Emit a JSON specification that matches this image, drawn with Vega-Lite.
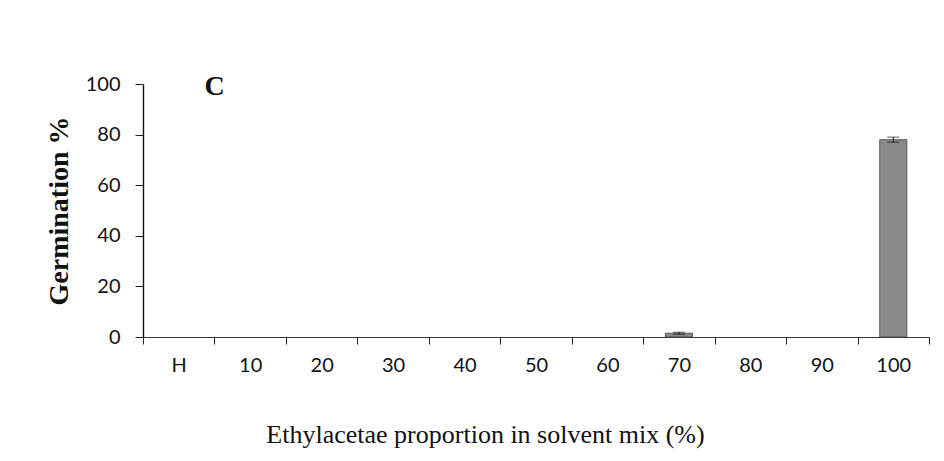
{
  "$schema": "https://vega.github.io/schema/vega-lite/v6.json",
  "width": 786,
  "height": 253,
  "autosize": {"type": "none"},
  "padding": {"left": 143, "top": 84, "right": 15, "bottom": 124},
  "background": "white",
  "config": {"view": {"stroke": null}},
  "data": {
    "values": [
      {"mix": "H", "germ": 0, "lo": 0, "hi": 0},
      {"mix": "10", "germ": 0, "lo": 0, "hi": 0},
      {"mix": "20", "germ": 0, "lo": 0, "hi": 0},
      {"mix": "30", "germ": 0, "lo": 0, "hi": 0},
      {"mix": "40", "germ": 0, "lo": 0, "hi": 0},
      {"mix": "50", "germ": 0, "lo": 0, "hi": 0},
      {"mix": "60", "germ": 0, "lo": 0, "hi": 0},
      {"mix": "70", "germ": 1.5, "lo": 1.1, "hi": 1.9},
      {"mix": "80", "germ": 0, "lo": 0, "hi": 0},
      {"mix": "90", "germ": 0, "lo": 0, "hi": 0},
      {"mix": "100", "germ": 78, "lo": 77, "hi": 79}
    ]
  },
  "encoding": {
    "x": {
      "field": "mix",
      "type": "nominal",
      "sort": null,
      "scale": {
        "domain": ["H", "10", "20", "30", "40", "50", "60", "70", "80", "90", "100"],
        "paddingInner": 0,
        "paddingOuter": 0
      },
      "axis": {
        "title": "Ethylacetae proportion in solvent mix (%)",
        "titleFont": "Liberation Serif",
        "titleFontSize": 26,
        "titleFontWeight": "normal",
        "titleColor": "#111",
        "titlePadding": 46,
        "titleX": 342,
        "labelAngle": 0,
        "labelFont": "Lato",
        "labelFontSize": 20,
        "labelColor": "#111",
        "labelPadding": 11,
        "tickBand": "extent",
        "tickSize": 7,
        "tickColor": "#222",
        "domainColor": "#333",
        "domainWidth": 1.2
      }
    }
  },
  "layer": [
    {
      "transform": [{"filter": "datum.germ > 0"}],
      "mark": {"type": "bar", "width": {"band": 0.38}, "color": "#8a8a8a", "stroke": "#444", "strokeWidth": 0.8},
      "encoding": {
        "y": {
          "field": "germ",
          "type": "quantitative",
          "scale": {"domain": [0, 100]},
          "axis": {
            "title": "Germination %",
            "titleFont": "Liberation Serif",
            "titleFontSize": 28,
            "titleFontWeight": "bold",
            "titleColor": "#111",
            "titlePadding": 12,
            "values": [0, 20, 40, 60, 80, 100],
            "labelFont": "Lato",
            "labelFontSize": 20,
            "labelColor": "#111",
            "labelPadding": 15,
            "tickSize": 8,
            "tickColor": "#222",
            "domainColor": "#111",
            "domainWidth": 1.4,
            "grid": false
          }
        }
      }
    },
    {
      "transform": [{"filter": "datum.hi > datum.lo"}],
      "mark": {"type": "errorbar", "ticks": {"size": 12, "color": "#111"}, "rule": {"color": "#111"}},
      "encoding": {
        "y": {"field": "lo", "type": "quantitative", "title": "Germination %"},
        "y2": {"field": "hi"}
      }
    },
    {
      "data": {"values": [{"panel": "C", "mix": "H", "v": 99}]},
      "mark": {"type": "text", "font": "Liberation Serif", "fontSize": 28, "fontWeight": "bold", "color": "#111", "dx": 36, "baseline": "middle"},
      "encoding": {
        "x": {"field": "mix", "type": "nominal"},
        "y": {"field": "v", "type": "quantitative"},
        "text": {"field": "panel"}
      }
    }
  ]
}
